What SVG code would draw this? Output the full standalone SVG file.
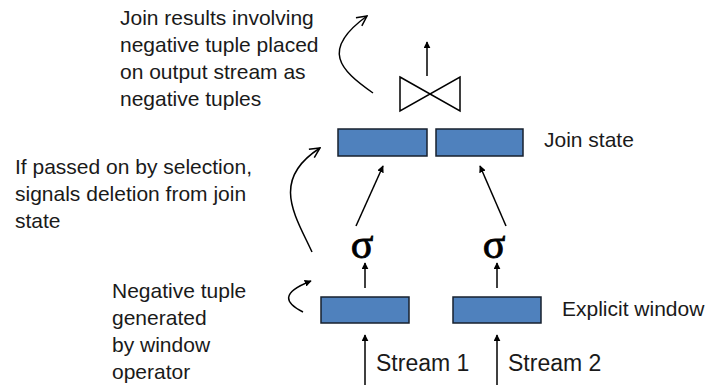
<svg xmlns="http://www.w3.org/2000/svg" width="713" height="385" viewBox="0 0 713 385">
<defs>
<marker id="tri" viewBox="0 0 10 10" refX="9" refY="5" markerWidth="7" markerHeight="7" markerUnits="userSpaceOnUse" orient="auto">
<path d="M0,0 L10,5 L0,10 z" fill="#000"/>
</marker>
<marker id="open" viewBox="0 0 12 12" refX="11" refY="6" markerWidth="12" markerHeight="12" markerUnits="userSpaceOnUse" orient="auto">
<path d="M1,1 L11,6 L1,11" fill="none" stroke="#000" stroke-width="1.5"/>
</marker>
<style>
.box{fill:#4F81BD;stroke:#17202E;stroke-width:1.5}
.t{font-family:"Liberation Sans",Arial,sans-serif;font-size:21px;fill:#1a1a1a}
.s{font-family:"Liberation Sans",Arial,sans-serif;font-size:23px;fill:#1a1a1a}
.sig{font-family:"Liberation Serif","Times New Roman",serif;font-size:42px;fill:#000;stroke:#000;stroke-width:0.8}
.ln{stroke:#000;stroke-width:1.5;fill:none}
</style>
</defs>
<rect width="713" height="385" fill="#fff"/>
<g id="join-op">
<polygon points="400,77 460,111 460,77 400,111" fill="none" stroke="#000" stroke-width="1.5"/>
</g>
<g id="join-state-1"><rect class="box" x="338" y="129" width="89" height="27"/></g>
<g id="join-state-2"><rect class="box" x="436" y="129" width="87" height="27"/></g>
<g id="sigma-1"><text class="sig" x="362" y="258" text-anchor="middle">σ</text></g>
<g id="sigma-2"><text class="sig" x="494" y="258" text-anchor="middle">σ</text></g>
<g id="window-1"><rect class="box" x="321" y="297" width="88" height="26"/></g>
<g id="window-2"><rect class="box" x="453" y="297" width="88" height="26"/></g>
<g id="connectors">
<line class="ln" x1="427" y1="76" x2="427" y2="42" marker-end="url(#tri)"/>
<line class="ln" x1="356" y1="226" x2="383" y2="166" marker-end="url(#tri)"/>
<line class="ln" x1="506" y1="226" x2="480" y2="166" marker-end="url(#tri)"/>
<line class="ln" x1="365" y1="288" x2="365" y2="263" marker-end="url(#tri)"/>
<line class="ln" x1="497" y1="288" x2="497" y2="263" marker-end="url(#tri)"/>
<line class="ln" x1="365" y1="385" x2="365" y2="335" marker-end="url(#tri)"/>
<line class="ln" x1="497" y1="385" x2="497" y2="335" marker-end="url(#tri)"/>
<path class="ln" d="M373,93 C340,70 320,50 367,16" marker-end="url(#open)"/>
<path class="ln" d="M312,252 C295,215 270,180 320,148" marker-end="url(#open)"/>
<path class="ln" d="M303,312 C285,303 280,293 311,281" marker-end="url(#tri)"/>
</g>
<g id="labels">
<text class="t" x="120" y="25">Join results involving</text>
<text class="t" x="120" y="52">negative tuple placed</text>
<text class="t" x="120" y="79">on output stream as</text>
<text class="t" x="120" y="106">negative tuples</text>
<text class="t" x="544" y="147">Join state</text>
<text class="t" x="15" y="174">If passed on by selection,</text>
<text class="t" x="15" y="201">signals deletion from join</text>
<text class="t" x="15" y="228">state</text>
<text class="t" x="112" y="298">Negative tuple</text>
<text class="t" x="112" y="325">generated</text>
<text class="t" x="112" y="352">by window</text>
<text class="t" x="112" y="379">operator</text>
<text class="t" x="562" y="316">Explicit window</text>
<text class="s" x="376" y="371">Stream 1</text>
<text class="s" x="508" y="371">Stream 2</text>
</g>
</svg>
